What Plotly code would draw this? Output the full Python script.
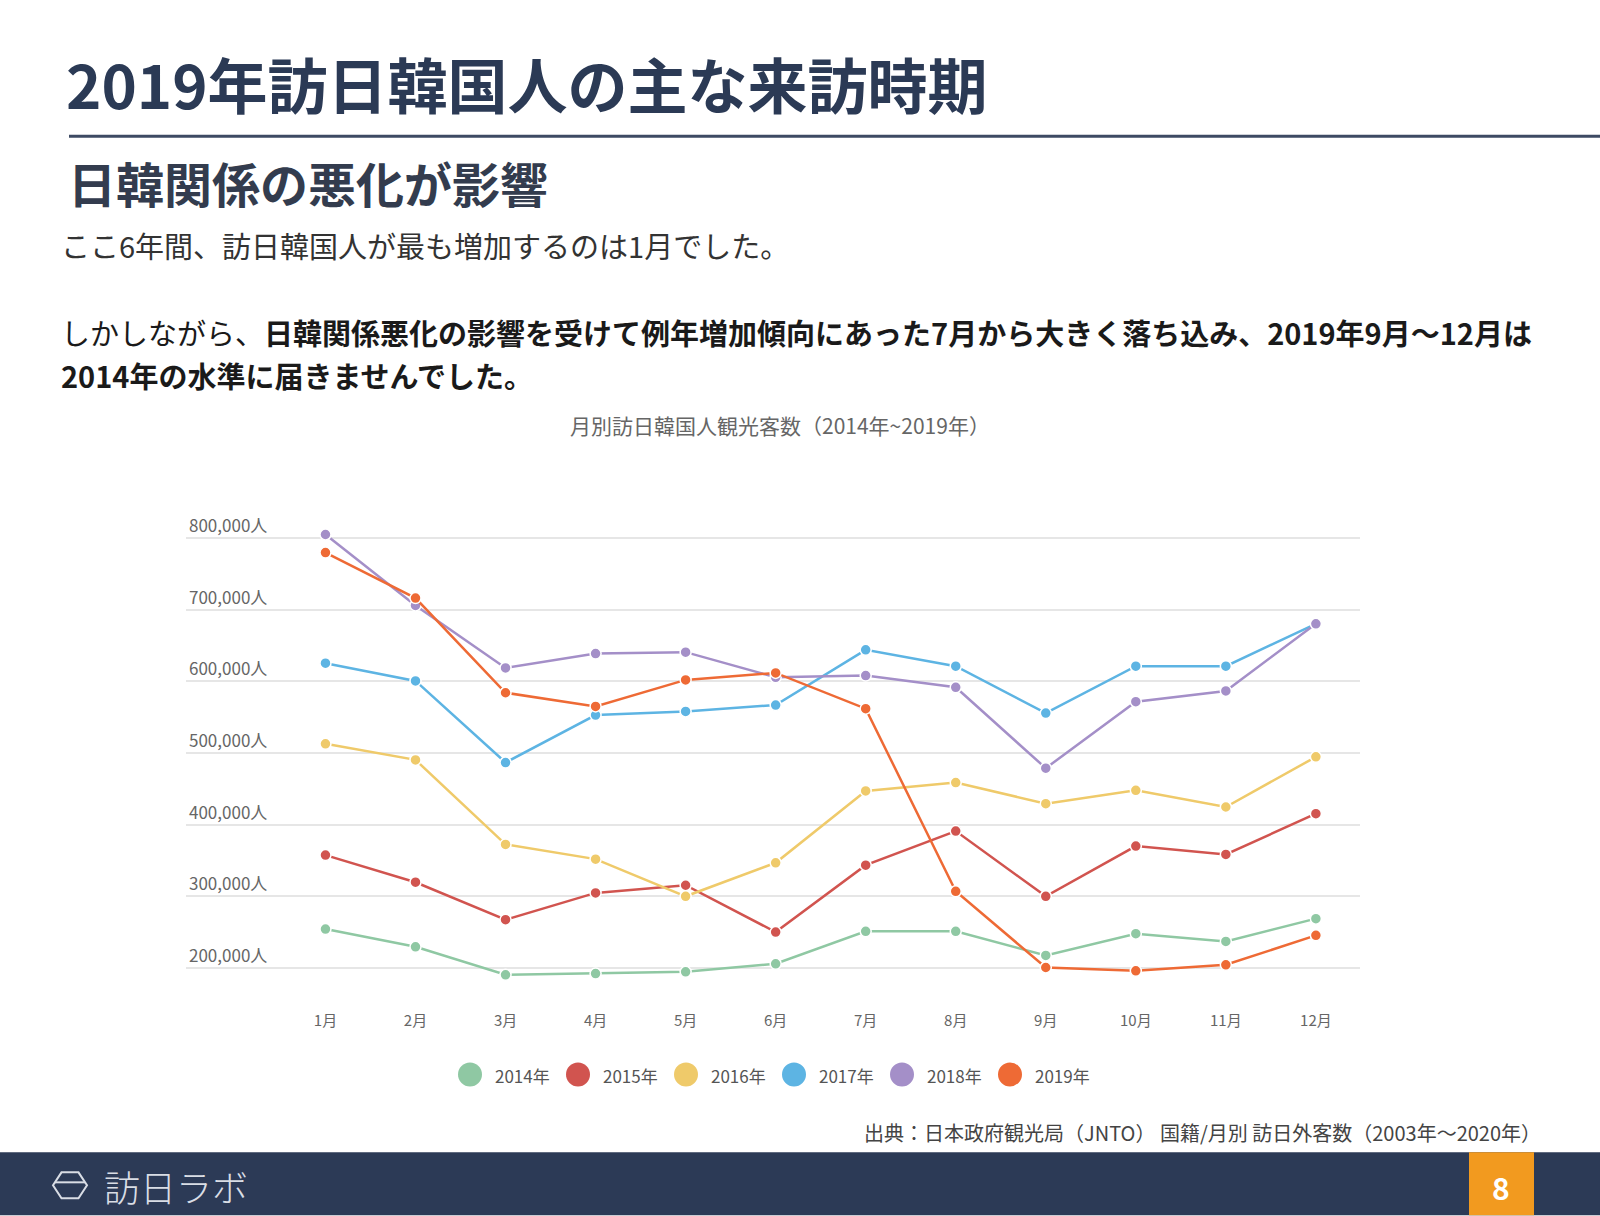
import plotly.graph_objects as go

W, H = 1600, 1216
L, R, T, B = 186, 240, 502, 211.5

months = ["1月", "2月", "3月", "4月", "5月", "6月", "7月", "8月", "9月", "10月", "11月", "12月"]
years = ["2014年", "2015年", "2016年", "2017年", "2018年", "2019年"]

v2014 = [254500, 229800, 190700, 192500, 194900, 206100, 251300, 251300, 217700, 248000, 237300, 269000]
v2015 = [357600, 319800, 267600, 304900, 315600, 250300, 343600, 391100, 300200, 370200, 358500, 415400]
v2016 = [512800, 490400, 372500, 352000, 300200, 346900, 447100, 458700, 429400, 448000, 424700, 494600]
v2017 = [625200, 600500, 486700, 552900, 558000, 566900, 643800, 621000, 555700, 621000, 621000, 680200]
v2018 = [804700, 705800, 618600, 638700, 640600, 605600, 607900, 591600, 478800, 571600, 586500, 680200]
v2019 = [779500, 716000, 584000, 565000, 601900, 611700, 561800, 307200, 200900, 196300, 204700, 245700]

series = [v2014, v2015, v2016, v2017, v2018, v2019]
colors = ["#8fc8a3", "#d1544f", "#efca6a", "#5db4e3", "#a48fc8", "#ee6a35"]

ytick_vals = [200000, 300000, 400000, 500000, 600000, 700000, 800000]
ytick_text = [f"{v:,}人" for v in ytick_vals]

FONT = "Noto Sans CJK JP"


def px(x):
    return (x - L) / (W - L - R)


def py(y):
    return (H - B - y) / (H - T - B)


fig = go.Figure()

for name, vals, c in zip(years, series, colors):
    fig.add_trace(go.Scatter(
        x=months, y=vals, mode="lines+markers", name=name,
        line=dict(color=c, width=2.5),
        marker=dict(size=11, color=c, line=dict(color="white", width=1.5)),
        showlegend=False,
    ))

annotations = [
    dict(text="<b>2019年訪日韓国人の主な来訪時期</b>", x=px(64), y=py(82),
         font=dict(size=60, color="#2b3a55")),
    dict(text="<b>日韓関係の悪化が影響</b>", x=px(66), y=py(182),
         font=dict(size=48, color="#333c4e")),
    dict(text="ここ6年間、訪日韓国人が最も増加するのは1月でした。", x=px(59), y=py(245),
         font=dict(size=29, color="#333333")),
    dict(text="しかしながら、<b>日韓関係悪化の影響を受けて例年増加傾向にあった7月から大きく落ち込み、2019年9月〜12月は</b>",
         x=px(59), y=py(332), font=dict(size=29, color="#1a1a1a")),
    dict(text="<b>2014年の水準に届きませんでした。</b>", x=px(59), y=py(375),
         font=dict(size=29, color="#1a1a1a")),
    dict(text="月別訪日韓国人観光客数（2014年~2019年）", x=px(780), y=py(425), xanchor="center",
         font=dict(size=21, color="#666666")),
    dict(text="出典：日本政府観光局（JNTO） 国籍/月別 訪日外客数（2003年〜2020年）", x=px(1543), y=py(1133),
         xanchor="right", font=dict(size=20, color="#444444")),
    dict(text="訪日ラボ", x=px(102), y=py(1187), font=dict(size=36, color="#d9dde5", weight=300)),
    dict(text="<b>8</b>", x=px(1501), y=py(1188), xanchor="center", font=dict(size=30, color="white")),
]

shapes = [
    dict(type="line", x0=px(69), x1=px(1600), y0=py(136), y1=py(136),
         line=dict(color="#3d4a63", width=3)),
    dict(type="rect", x0=px(0), x1=px(1600), y0=py(1153), y1=py(1216),
         fillcolor="#2c3a56", line=dict(width=0)),
    dict(type="rect", x0=px(1469), x1=px(1534), y0=py(1153), y1=py(1216),
         fillcolor="#f29a1f", line=dict(width=0)),
]

# logo mark: flattened hexagon with a bar
cx, cy, rx, ry = 70, 1186, 17, 13
hexpts = [(cx - rx, cy), (cx - rx / 2, cy - ry), (cx + rx / 2, cy - ry),
          (cx + rx, cy), (cx + rx / 2, cy + ry), (cx - rx / 2, cy + ry)]
shapes.append(dict(type="path",
                   path="M " + " L ".join(f"{px(x)},{py(y)}" for x, y in hexpts) + " Z",
                   line=dict(color="#d9dde5", width=2)))
shapes.append(dict(type="line", x0=px(cx - rx + 2), x1=px(cx + rx - 2), y0=py(cy - 3), y1=py(cy - 3),
                   line=dict(color="#d9dde5", width=2)))

# legend: large circles with labels
leg_x0, leg_step, leg_y, leg_r = 470, 108, 1075, 12
for i, (name, c) in enumerate(zip(years, colors)):
    xc = leg_x0 + i * leg_step
    shapes.append(dict(type="circle", x0=px(xc - leg_r), x1=px(xc + leg_r),
                       y0=py(leg_y - leg_r), y1=py(leg_y + leg_r),
                       fillcolor=c, line=dict(width=0)))
    annotations.append(dict(text=name, x=px(xc + 23), y=py(leg_y + 1),
                            font=dict(size=17, color="#555555")))

for a in annotations:
    a.setdefault("xanchor", "left")
    a.update(xref="paper", yref="paper", yanchor="middle", showarrow=False)
    a["font"].setdefault("family", FONT)
for s in shapes:
    s.update(xref="paper", yref="paper")

fig.update_layout(
    width=W, height=H,
    margin=dict(l=L, r=R, t=T, b=B, pad=0),
    paper_bgcolor="white", plot_bgcolor="white",
    font=dict(family=FONT),
    showlegend=False,
    annotations=annotations,
    shapes=shapes,
    xaxis=dict(range=[-1.549, 11.49], showgrid=False, zeroline=False, showline=False,
               tickfont=dict(size=15, color="#666666"), ticklabelstandoff=6),
    yaxis=dict(range=[150000, 850000], tickvals=ytick_vals, ticktext=ytick_text,
               ticklabelposition="inside top", showgrid=True, gridcolor="#e6e6e6", gridwidth=1.5,
               zeroline=False, showline=False, tickfont=dict(size=17, color="#666666")),
)

fig.write_html("out.html", config={"displayModeBar": False},
               post_script="document.body.style.margin='0px';")
